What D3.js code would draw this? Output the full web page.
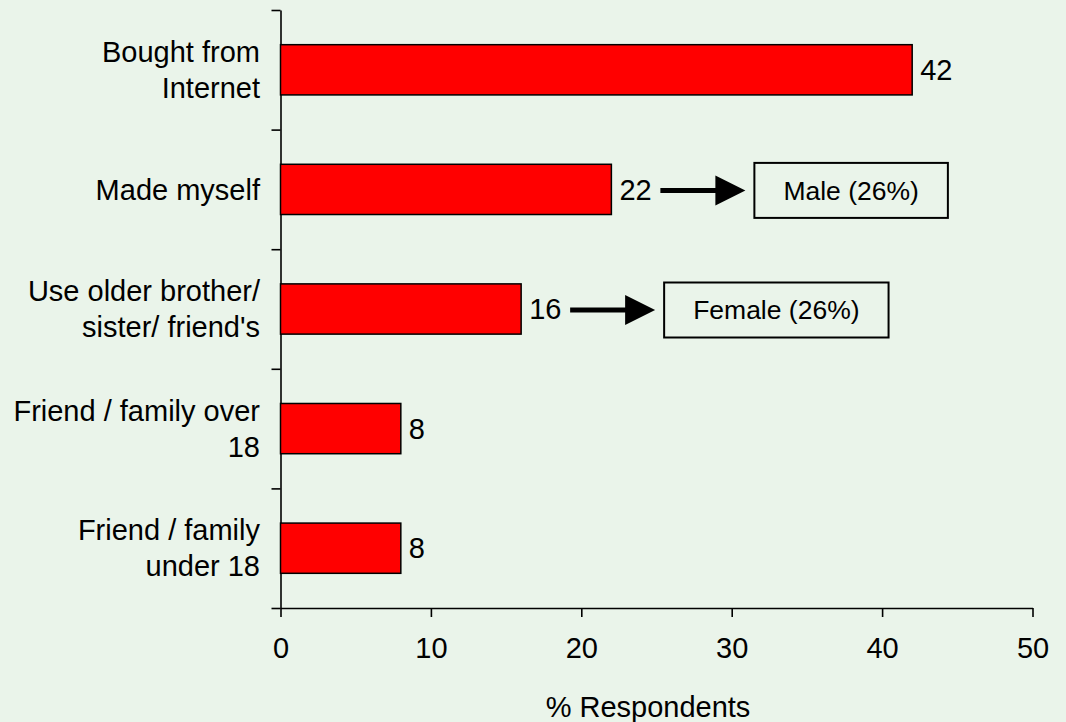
<!DOCTYPE html>
<html>
<head>
<meta charset="utf-8">
<script src="https://cdn.jsdelivr.net/npm/d3@7"></script>
<style>
  html, body { margin: 0; padding: 0; background: #EAF4EA; }
  svg { display: block; }
  text { font-family: Arial, "Liberation Sans", sans-serif; fill: #000; }
</style>
</head>
<body>
<div id="chart"></div>
<script>
// bar chart data
var categories = ["Bought from\nInternet", "Made myself", "Use older brother/\nsister/ friend's",
                  "Friend / family over\n18", "Friend / family\nunder 18"];
var values = [42, 22, 16, 8, 8];
var xTicks = [0, 10, 20, 30, 40, 50];
var xTitle = "% Respondents";

// call-outs next to two of the bars
var noteCategories = ["Made myself", "Use older brother/\nsister/ friend's"];
var noteTexts = ["Male (26%)", "Female (26%)"];

var width = 1066,
    height = 722;

var svg = d3.select("#chart")
    .append("svg")
    .attr("width", width)
    .attr("height", height);

svg.append("rect")
    .attr("width", width)
    .attr("height", height)
    .attr("fill", "#EAF4EA");

var x = d3.scaleLinear()
    .domain([0, 50])
    .range([280.5, 1032.5]);

var y = d3.scaleBand()
    .domain(categories)
    .range([10, 608])
    .paddingInner(0.58)
    .paddingOuter(0.29);

// boundaries between categories, used for the y ticks
var yEdge = d3.scaleLinear()
    .domain([0, categories.length])
    .range([10, 608]);

var fontSize = 29;

function center(c) { return y(c) + y.bandwidth() / 2; }

// y axis
var yAxis = svg.append("g")
    .attr("transform", "translate(" + x(0) + ",0)")
    .call(d3.axisLeft(yEdge)
        .tickValues(d3.range(categories.length + 1))
        .tickSize(9)
        .tickSizeOuter(0)
        .tickFormat(""));
yAxis.selectAll("path, line").attr("stroke", "#000").attr("stroke-width", 1.6);

// x axis
var xAxis = svg.append("g")
    .attr("transform", "translate(0,608)")
    .call(d3.axisBottom(x)
        .tickValues(xTicks)
        .tickSize(9)
        .tickSizeOuter(0)
        .tickPadding(20));
xAxis.selectAll("path, line").attr("stroke", "#000").attr("stroke-width", 1.6);
xAxis.selectAll("text")
    .attr("font-size", fontSize)
    .attr("font-family", "Arial, 'Liberation Sans', sans-serif")
    .attr("fill", "#000");

svg.append("text")
    .attr("x", 648)
    .attr("y", 717)
    .attr("text-anchor", "middle")
    .attr("font-size", fontSize)
    .text(xTitle);

// category labels, wrapped on \n
var catLabel = svg.append("g")
    .selectAll("text")
    .data(categories)
    .enter().append("text")
    .attr("text-anchor", "end")
    .attr("font-size", fontSize);

catLabel.each(function (d) {
    var lines = d.split("\n");
    var lineH = 36;
    var top = center(d) - (lines.length - 1) * lineH / 2;
    d3.select(this).selectAll("tspan")
        .data(lines)
        .enter().append("tspan")
        .attr("x", 260)
        .attr("y", function (l, i) { return top + i * lineH; })
        .attr("dy", "0.35em")
        .text(function (l) { return l; });
});

// bars
svg.append("g")
    .selectAll("rect")
    .data(categories)
    .enter().append("rect")
    .attr("x", x(0))
    .attr("y", function (d) { return y(d); })
    .attr("width", function (d, i) { return x(values[i]) - x(0); })
    .attr("height", y.bandwidth())
    .attr("fill", "#FF0000")
    .attr("stroke", "#000")
    .attr("stroke-width", 1.5);

// value labels
svg.append("g")
    .selectAll("text")
    .data(categories)
    .enter().append("text")
    .attr("x", function (d, i) { return x(values[i]) + 8; })
    .attr("y", function (d) { return center(d); })
    .attr("dy", "0.35em")
    .attr("font-size", fontSize)
    .text(function (d, i) { return values[i]; });

// arrows and call-out boxes
var notes = svg.append("g")
    .selectAll("g")
    .data(noteCategories)
    .enter().append("g");

notes.each(function (c, i) {
    var g = d3.select(this);
    var v = values[categories.indexOf(c)];
    var cy = center(c) + 1;
    var x0 = x(v) + 49,
        tip = x(v) + 134;

    g.append("line")
        .attr("x1", x0)
        .attr("x2", tip - 25)
        .attr("y1", cy)
        .attr("y2", cy)
        .attr("stroke", "#000")
        .attr("stroke-width", 5);

    g.append("path")
        .attr("d", "M" + (tip - 30) + "," + (cy - 15) + "L" + tip + "," + cy + "L" + (tip - 30) + "," + (cy + 15) + "Z")
        .attr("fill", "#000");

    var t = g.append("text")
        .attr("font-size", 26.5)
        .attr("text-anchor", "middle")
        .attr("dy", "0.35em")
        .text(noteTexts[i]);

    var w = t.node().getComputedTextLength() + 58;
    var bx = tip + 9;
    g.insert("rect", "text")
        .attr("x", bx)
        .attr("y", cy - 27.5)
        .attr("width", w)
        .attr("height", 55)
        .attr("fill", "none")
        .attr("stroke", "#000")
        .attr("stroke-width", 2);

    t.attr("x", bx + w / 2).attr("y", cy);
});
</script>
</body>
</html>
